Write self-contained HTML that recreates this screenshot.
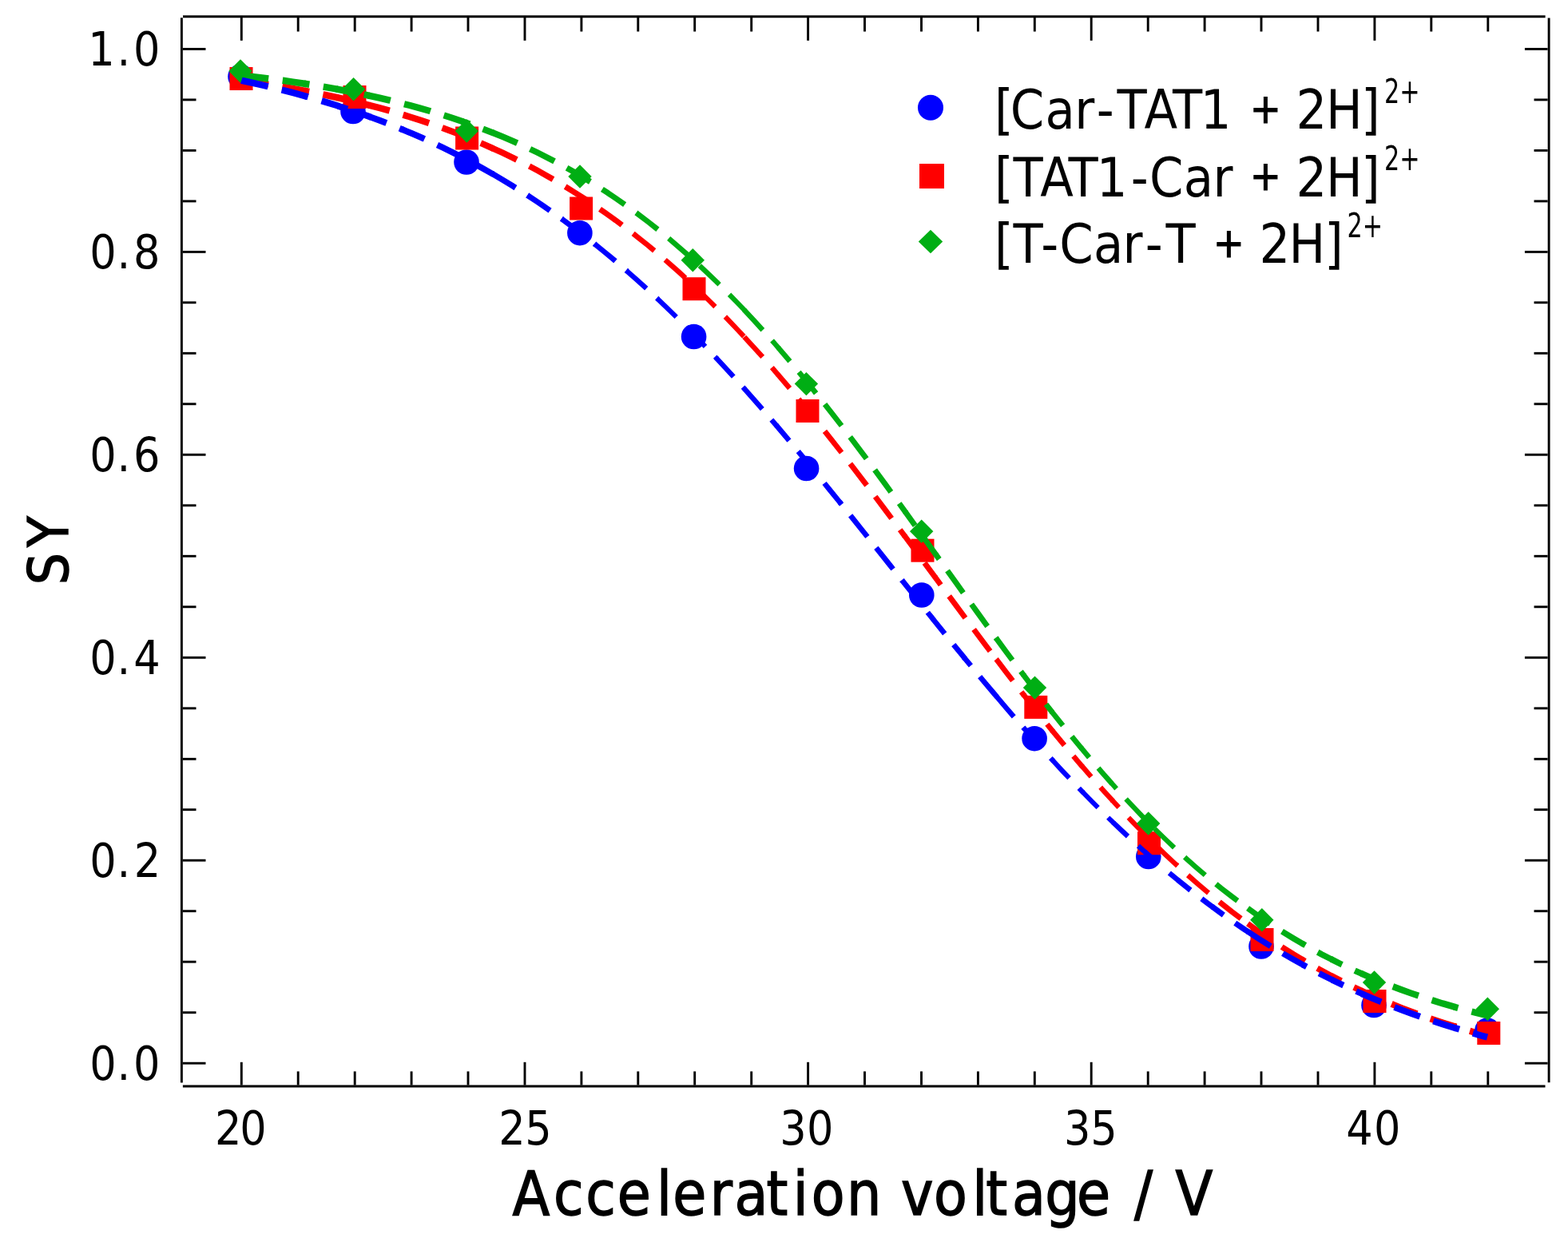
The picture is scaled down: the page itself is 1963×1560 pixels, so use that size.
<!DOCTYPE html>
<html><head><meta charset="utf-8"><title>SY vs Acceleration voltage</title>
<style>
html,body{margin:0;padding:0;background:#fff;}
body{width:1963px;height:1560px;overflow:hidden;}
svg{display:block;}
.t{font-family:"DejaVu Sans Condensed","DejaVu Sans","Liberation Sans",sans-serif;font-stretch:condensed;fill:#000;}
.b{font-weight:bold;}
</style></head><body>
<svg width="1963" height="1560" viewBox="0 0 1963 1560">
<rect width="1963" height="1560" fill="#fff"/>

<g stroke="#000" stroke-width="2.9" fill="none" stroke-linecap="butt">
<line x1="229" y1="20.7" x2="1934.6" y2="20.7"/>
<line x1="228.9" y1="1360" x2="1934.5" y2="1360"/>
<line x1="227.4" y1="22.3" x2="227.4" y2="1355.6"/>
<line x1="1939.1" y1="22.6" x2="1939.1" y2="1355.3"/>
<line x1="302.3" y1="1329.8" x2="302.3" y2="1358.6"/>
<line x1="302.3" y1="22" x2="302.3" y2="50.8"/>
<line x1="373.2" y1="1341.4" x2="373.2" y2="1358.6"/>
<line x1="373.2" y1="22" x2="373.2" y2="39.5"/>
<line x1="444.2" y1="1341.4" x2="444.2" y2="1358.6"/>
<line x1="444.2" y1="22" x2="444.2" y2="39.5"/>
<line x1="515.1" y1="1341.4" x2="515.1" y2="1358.6"/>
<line x1="515.1" y1="22" x2="515.1" y2="39.5"/>
<line x1="586.0" y1="1341.4" x2="586.0" y2="1358.6"/>
<line x1="586.0" y1="22" x2="586.0" y2="39.5"/>
<line x1="657.0" y1="1329.8" x2="657.0" y2="1358.6"/>
<line x1="657.0" y1="22" x2="657.0" y2="50.8"/>
<line x1="727.9" y1="1341.4" x2="727.9" y2="1358.6"/>
<line x1="727.9" y1="22" x2="727.9" y2="39.5"/>
<line x1="798.8" y1="1341.4" x2="798.8" y2="1358.6"/>
<line x1="798.8" y1="22" x2="798.8" y2="39.5"/>
<line x1="869.7" y1="1341.4" x2="869.7" y2="1358.6"/>
<line x1="869.7" y1="22" x2="869.7" y2="39.5"/>
<line x1="940.7" y1="1341.4" x2="940.7" y2="1358.6"/>
<line x1="940.7" y1="22" x2="940.7" y2="39.5"/>
<line x1="1011.6" y1="1329.8" x2="1011.6" y2="1358.6"/>
<line x1="1011.6" y1="22" x2="1011.6" y2="50.8"/>
<line x1="1082.5" y1="1341.4" x2="1082.5" y2="1358.6"/>
<line x1="1082.5" y1="22" x2="1082.5" y2="39.5"/>
<line x1="1153.5" y1="1341.4" x2="1153.5" y2="1358.6"/>
<line x1="1153.5" y1="22" x2="1153.5" y2="39.5"/>
<line x1="1224.4" y1="1341.4" x2="1224.4" y2="1358.6"/>
<line x1="1224.4" y1="22" x2="1224.4" y2="39.5"/>
<line x1="1295.3" y1="1341.4" x2="1295.3" y2="1358.6"/>
<line x1="1295.3" y1="22" x2="1295.3" y2="39.5"/>
<line x1="1366.2" y1="1329.8" x2="1366.2" y2="1358.6"/>
<line x1="1366.2" y1="22" x2="1366.2" y2="50.8"/>
<line x1="1437.2" y1="1341.4" x2="1437.2" y2="1358.6"/>
<line x1="1437.2" y1="22" x2="1437.2" y2="39.5"/>
<line x1="1508.1" y1="1341.4" x2="1508.1" y2="1358.6"/>
<line x1="1508.1" y1="22" x2="1508.1" y2="39.5"/>
<line x1="1579.0" y1="1341.4" x2="1579.0" y2="1358.6"/>
<line x1="1579.0" y1="22" x2="1579.0" y2="39.5"/>
<line x1="1650.0" y1="1341.4" x2="1650.0" y2="1358.6"/>
<line x1="1650.0" y1="22" x2="1650.0" y2="39.5"/>
<line x1="1720.9" y1="1329.8" x2="1720.9" y2="1358.6"/>
<line x1="1720.9" y1="22" x2="1720.9" y2="50.8"/>
<line x1="1791.8" y1="1341.4" x2="1791.8" y2="1358.6"/>
<line x1="1791.8" y1="22" x2="1791.8" y2="39.5"/>
<line x1="1862.8" y1="1341.4" x2="1862.8" y2="1358.6"/>
<line x1="1862.8" y1="22" x2="1862.8" y2="39.5"/>
<line x1="228.6" y1="1331.2" x2="257.5" y2="1331.2"/>
<line x1="1908.9" y1="1331.2" x2="1937.6" y2="1331.2"/>
<line x1="228.6" y1="1267.7" x2="245.5" y2="1267.7"/>
<line x1="1920.5" y1="1267.7" x2="1937.6" y2="1267.7"/>
<line x1="228.6" y1="1204.2" x2="245.5" y2="1204.2"/>
<line x1="1920.5" y1="1204.2" x2="1937.6" y2="1204.2"/>
<line x1="228.6" y1="1140.7" x2="245.5" y2="1140.7"/>
<line x1="1920.5" y1="1140.7" x2="1937.6" y2="1140.7"/>
<line x1="228.6" y1="1077.2" x2="257.5" y2="1077.2"/>
<line x1="1908.9" y1="1077.2" x2="1937.6" y2="1077.2"/>
<line x1="228.6" y1="1013.7" x2="245.5" y2="1013.7"/>
<line x1="1920.5" y1="1013.7" x2="1937.6" y2="1013.7"/>
<line x1="228.6" y1="950.3" x2="245.5" y2="950.3"/>
<line x1="1920.5" y1="950.3" x2="1937.6" y2="950.3"/>
<line x1="228.6" y1="886.8" x2="245.5" y2="886.8"/>
<line x1="1920.5" y1="886.8" x2="1937.6" y2="886.8"/>
<line x1="228.6" y1="823.3" x2="257.5" y2="823.3"/>
<line x1="1908.9" y1="823.3" x2="1937.6" y2="823.3"/>
<line x1="228.6" y1="759.8" x2="245.5" y2="759.8"/>
<line x1="1920.5" y1="759.8" x2="1937.6" y2="759.8"/>
<line x1="228.6" y1="696.3" x2="245.5" y2="696.3"/>
<line x1="1920.5" y1="696.3" x2="1937.6" y2="696.3"/>
<line x1="228.6" y1="632.8" x2="245.5" y2="632.8"/>
<line x1="1920.5" y1="632.8" x2="1937.6" y2="632.8"/>
<line x1="228.6" y1="569.3" x2="257.5" y2="569.3"/>
<line x1="1908.9" y1="569.3" x2="1937.6" y2="569.3"/>
<line x1="228.6" y1="505.8" x2="245.5" y2="505.8"/>
<line x1="1920.5" y1="505.8" x2="1937.6" y2="505.8"/>
<line x1="228.6" y1="442.3" x2="245.5" y2="442.3"/>
<line x1="1920.5" y1="442.3" x2="1937.6" y2="442.3"/>
<line x1="228.6" y1="378.8" x2="245.5" y2="378.8"/>
<line x1="1920.5" y1="378.8" x2="1937.6" y2="378.8"/>
<line x1="228.6" y1="315.4" x2="257.5" y2="315.4"/>
<line x1="1908.9" y1="315.4" x2="1937.6" y2="315.4"/>
<line x1="228.6" y1="251.9" x2="245.5" y2="251.9"/>
<line x1="1920.5" y1="251.9" x2="1937.6" y2="251.9"/>
<line x1="228.6" y1="188.4" x2="245.5" y2="188.4"/>
<line x1="1920.5" y1="188.4" x2="1937.6" y2="188.4"/>
<line x1="228.6" y1="124.9" x2="245.5" y2="124.9"/>
<line x1="1920.5" y1="124.9" x2="1937.6" y2="124.9"/>
<line x1="228.6" y1="61.4" x2="257.5" y2="61.4"/>
<line x1="1908.9" y1="61.4" x2="1937.6" y2="61.4"/>
</g>
<g class="t" font-size="58.4">
<text x="112.2 146.4 167.0" y="1352.2">0.0</text>
<text x="112.2 146.4 167.7" y="1098.2">0.2</text>
<text x="112.2 146.4 167.2" y="844.3">0.4</text>
<text x="112.2 146.4 166.9" y="590.3">0.6</text>
<text x="112.2 146.4 167.0" y="336.4">0.8</text>
<text x="110.3 146.4 167.0" y="82.4">1.0</text>
<text x="269.0 300.2" y="1433.1">20</text>
<text x="624.3 657.2" y="1433.1">25</text>
<text x="976.2 1009.9" y="1433.1">30</text>
<text x="1332.1 1365.2" y="1433.1">35</text>
<text x="1685.2 1720.0" y="1433.1">40</text>
</g>
<text class="t" x="641.6 692.9 733.2 772.8 821.9 842.2 888.7 919.6 959.6 992.8 1015.7 1059.9 1103.2 1127.9 1169.0 1217.3 1234.3 1266.9 1308.3 1348.0 1390.1 1420.0 1443.1 1471.5" y="1520.5" font-size="76" stroke="#000" stroke-width="1.4">Acceleration voltage / V</text>
<text class="t" transform="translate(85.3,731.7) rotate(-90)" x="-0.5 46.6" y="0" font-size="70" stroke="#000" stroke-width="1.4">SY</text>
<text class="t" x="1244.9 1264.7 1308.4 1345.3 1372.7 1398.6 1432.4 1467.9 1502.7 1541.4 1565.1 1603.9 1622.6 1660.0 1704.1" y="161.3" font-size="67.6">[Car-TAT1 <tspan font-size="51.4" dy="-7.3" stroke="#000" stroke-width="1.2">+</tspan><tspan dy="7.3"> 2H]</tspan></text>
<text class="t" x="1733" y="129.0" font-size="42" textLength="44.5" lengthAdjust="spacingAndGlyphs">2+</text>
<text class="t" x="1244.9 1268.5 1302.3 1337.6 1372.8 1415.8 1438.9 1481.7 1518.5 1543.5 1565.1 1603.9 1622.6 1660.0 1704.1" y="245.6" font-size="67.6">[TAT1-Car <tspan font-size="51.4" dy="-7.3" stroke="#000" stroke-width="1.2">+</tspan><tspan dy="7.3"> 2H]</tspan></text>
<text class="t" x="1733" y="213.3" font-size="42" textLength="44.5" lengthAdjust="spacingAndGlyphs">2+</text>
<text class="t" x="1244.9 1268.5 1303.2 1326.3 1369.0 1405.5 1433.7 1459.5 1496.7 1519.1 1557.8 1576.5 1613.6 1658.0" y="328.9" font-size="67.6">[T-Car-T <tspan font-size="51.4" dy="-7.3" stroke="#000" stroke-width="1.2">+</tspan><tspan dy="7.3"> 2H]</tspan></text>
<text class="t" x="1686.5" y="296.6" font-size="42" textLength="44.5" lengthAdjust="spacingAndGlyphs">2+</text>
<circle cx="1165" cy="134.7" r="16" fill="#0000ff"/>
<rect x="1151" y="205" width="31" height="31" fill="#ff0000"/>
<polygon points="1165,287.8 1180.2,302.5 1165,317.3 1149.8,302.5" fill="#00ae14"/>
<g fill="none" stroke="#ff0000" stroke-dasharray="34.1 17.65" stroke-linecap="butt"><path d="M302.3,100.8 L302.9,100.9 L315.6,102.7 L328.2,104.6 L340.8,106.6 L342.8,106.9" stroke-width="8.50" stroke-dashoffset="0.0"/><path d="M341.3,106.7 L341.5,106.7 L354.1,108.8 L366.7,111.0 L379.4,113.4 L383.1,114.1" stroke-width="8.47" stroke-dashoffset="39.5"/><path d="M381.7,113.8 L381.9,113.8 L394.5,116.3 L407.2,118.9 L419.8,121.6 L423.2,122.4" stroke-width="8.42" stroke-dashoffset="80.4"/><path d="M421.8,122.1 L422.3,122.2 L435.0,125.1 L447.6,128.1 L460.2,131.3 L463.1,132.0" stroke-width="8.36" stroke-dashoffset="121.4"/><path d="M461.6,131.6 L462.1,131.8 L474.8,135.1 L487.4,138.6 L500.0,142.3 L502.5,143.0" stroke-width="8.28" stroke-dashoffset="162.3"/><path d="M501.1,142.6 L501.3,142.7 L513.9,146.6 L526.6,150.6 L539.2,154.9 L541.5,155.6" stroke-width="8.18" stroke-dashoffset="203.3"/><path d="M540.0,155.2 L540.5,155.3 L553.1,159.8 L565.7,164.5 L578.4,169.3 L579.9,169.9" stroke-width="8.06" stroke-dashoffset="244.3"/><path d="M578.5,169.4 L579.0,169.6 L591.6,174.7 L604.3,180.1 L616.9,185.7 L617.5,185.9" stroke-width="7.92" stroke-dashoffset="285.2"/><path d="M616.2,185.3 L616.5,185.5 L629.2,191.3 L642.0,197.5 L654.7,203.9 L661.0,207.1" stroke-width="7.73" stroke-dashoffset="0.0"/><path d="M659.6,206.4 L659.8,206.5 L672.6,213.3 L685.3,220.4 L698.1,227.8 L704.4,231.6" stroke-width="7.50" stroke-dashoffset="48.3"/><path d="M703.1,230.8 L703.2,230.8 L715.9,238.7 L728.7,246.8 L741.5,255.2 L746.3,258.5" stroke-width="7.24" stroke-dashoffset="98.1"/><path d="M745.1,257.6 L745.3,257.8 L758.0,266.7 L770.8,275.8 L783.6,285.4 L786.6,287.7" stroke-width="6.97" stroke-dashoffset="148.0"/><path d="M785.4,286.8 L785.5,286.8 L798.2,296.8 L811.0,307.0 L823.7,317.6 L825.4,319.0" stroke-width="6.69" stroke-dashoffset="197.8"/><path d="M824.2,318.1 L824.4,318.2 L837.1,329.2 L849.9,340.5 L862.6,352.2" stroke-width="6.43" stroke-dashoffset="247.6"/><path d="M861.5,351.1 L862.0,351.6 L874.8,363.7 L887.5,376.1 L898.3,386.8" stroke-width="6.18" stroke-dashoffset="297.4"/><path d="M897.3,385.8 L897.7,386.2 L910.5,399.2 L923.2,412.6 L932.8,422.8" stroke-width="6.21" stroke-dashoffset="347.2"/><path d="M931.8,421.7 L932.3,422.3 L945.1,436.3 L957.9,450.5 L970.6,465.1 L974.5,469.6" stroke-width="6.42" stroke-dashoffset="0.0"/><path d="M973.6,468.5 L973.8,468.8 L986.5,483.7 L999.3,499.0 L1012.1,514.5 L1015.7,518.9" stroke-width="6.60" stroke-dashoffset="62.7"/><path d="M1014.8,517.8 L1015.2,518.4 L1028.0,534.2 L1040.8,550.3 L1053.5,566.5 L1055.6,569.3" stroke-width="6.74" stroke-dashoffset="127.0"/><path d="M1054.7,568.1 L1054.8,568.2 L1067.5,584.7 L1080.3,601.3 L1093.1,618.2 L1094.6,620.3" stroke-width="6.83" stroke-dashoffset="191.2"/><path d="M1093.7,619.1 L1094.3,619.9 L1107.1,636.8 L1119.8,653.9 L1132.6,671.1 L1133.1,671.7" stroke-width="6.89" stroke-dashoffset="255.4"/><path d="M1132.2,670.5 L1132.6,671.1 L1145.4,688.3 L1158.1,705.6 L1170.9,722.9 L1171.2,723.4" stroke-width="6.92" stroke-dashoffset="319.7"/><path d="M1170.3,722.2 L1170.9,722.9 L1183.6,740.2 L1196.4,757.4 L1209.1,774.6 L1209.5,775.0" stroke-width="6.91" stroke-dashoffset="383.9"/><path d="M1208.6,773.8 L1209.1,774.6 L1221.9,791.7 L1234.6,808.7 L1247.4,825.5 L1248.0,826.4" stroke-width="6.88" stroke-dashoffset="448.1"/><path d="M1247.1,825.2 L1247.6,825.8 L1260.3,842.5 L1273.1,859.0 L1282.2,870.8" stroke-width="6.81" stroke-dashoffset="0.0"/><path d="M1281.3,869.6 L1281.4,869.7 L1294.1,885.9 L1306.9,901.8 L1318.1,915.7" stroke-width="6.72" stroke-dashoffset="56.0"/><path d="M1317.2,914.5 L1317.7,915.2 L1330.5,930.7 L1343.2,946.0 L1355.0,959.8" stroke-width="6.60" stroke-dashoffset="113.5"/><path d="M1354.1,958.7 L1354.1,958.7 L1366.8,973.4 L1379.6,987.8 L1392.4,1001.9 L1393.2,1002.8" stroke-width="6.43" stroke-dashoffset="171.1"/><path d="M1392.2,1001.7 L1392.4,1001.9 L1405.1,1015.6 L1417.9,1029.0 L1430.6,1042.1 L1432.9,1044.4" stroke-width="6.22" stroke-dashoffset="228.6"/><path d="M1431.9,1043.4 L1431.9,1043.4 L1444.7,1056.1 L1457.4,1068.4 L1470.2,1080.4 L1474.4,1084.3" stroke-width="6.20" stroke-dashoffset="286.1"/><path d="M1473.3,1083.3 L1473.4,1083.3 L1486.1,1094.9 L1498.9,1106.1 L1511.6,1116.9 L1517.8,1122.0" stroke-width="6.49" stroke-dashoffset="343.6"/><path d="M1516.6,1121.1 L1516.7,1121.1 L1529.5,1131.5 L1542.2,1141.5 L1555.0,1151.1 L1563.3,1157.2" stroke-width="6.80" stroke-dashoffset="401.1"/><path d="M1562.1,1156.3 L1562.1,1156.3 L1574.2,1165.0 L1586.3,1173.4 L1596.3,1180.1" stroke-width="7.07" stroke-dashoffset="0.0"/><path d="M1595.0,1179.2 L1595.3,1179.4 L1607.4,1187.3 L1619.5,1194.9 L1631.6,1202.1" stroke-width="7.29" stroke-dashoffset="40.2"/><path d="M1630.3,1201.4 L1630.4,1201.4 L1642.5,1208.5 L1654.6,1215.2 L1666.7,1221.8 L1668.0,1222.4" stroke-width="7.50" stroke-dashoffset="81.8"/><path d="M1666.6,1221.7 L1666.7,1221.8 L1678.8,1228.0 L1690.9,1234.1 L1703.0,1239.8 L1705.3,1240.9" stroke-width="7.70" stroke-dashoffset="123.5"/><path d="M1703.9,1240.3 L1704.2,1240.4 L1716.3,1245.9 L1728.4,1251.2 L1740.5,1256.3 L1743.5,1257.6" stroke-width="7.88" stroke-dashoffset="165.1"/><path d="M1742.1,1257.0 L1742.3,1257.1 L1754.4,1261.9 L1766.5,1266.6 L1778.6,1271.0 L1782.4,1272.4" stroke-width="8.03" stroke-dashoffset="206.8"/><path d="M1781.0,1271.9 L1781.6,1272.1 L1793.7,1276.3 L1805.8,1280.3 L1817.9,1284.2 L1822.0,1285.5" stroke-width="8.16" stroke-dashoffset="248.4"/><path d="M1820.5,1285.0 L1820.9,1285.1 L1833.0,1288.8 L1845.1,1292.3 L1857.2,1295.6 L1862.0,1296.9" stroke-width="8.27" stroke-dashoffset="290.1"/></g>
<circle cx="301" cy="96" r="15.8" fill="#0000ff"/>
<circle cx="442" cy="139.5" r="15.8" fill="#0000ff"/>
<circle cx="584" cy="203" r="15.8" fill="#0000ff"/>
<circle cx="725.9" cy="291.7" r="15.8" fill="#0000ff"/>
<circle cx="868.6" cy="421.5" r="15.8" fill="#0000ff"/>
<circle cx="1009.6" cy="586.5" r="15.8" fill="#0000ff"/>
<circle cx="1153.8" cy="745" r="15.8" fill="#0000ff"/>
<circle cx="1295.1" cy="924.7" r="15.8" fill="#0000ff"/>
<circle cx="1437.8" cy="1072.5" r="15.8" fill="#0000ff"/>
<circle cx="1579" cy="1185" r="15.8" fill="#0000ff"/>
<circle cx="1720" cy="1258.5" r="15.8" fill="#0000ff"/>
<circle cx="1862" cy="1290" r="15.8" fill="#0000ff"/>
<rect x="287.5" y="84.0" width="29" height="29" fill="#ff0000"/>
<rect x="429.5" y="107.0" width="29" height="29" fill="#ff0000"/>
<rect x="570.1" y="158.5" width="29" height="29" fill="#ff0000"/>
<rect x="713.1" y="246.5" width="29" height="29" fill="#ff0000"/>
<rect x="854.5" y="347.2" width="29" height="29" fill="#ff0000"/>
<rect x="996.5" y="500.0" width="29" height="29" fill="#ff0000"/>
<rect x="1140.5" y="674.7" width="29" height="29" fill="#ff0000"/>
<rect x="1282.3" y="870.9" width="29" height="29" fill="#ff0000"/>
<rect x="1424.0" y="1041.2" width="29" height="29" fill="#ff0000"/>
<rect x="1565.5" y="1162.0" width="29" height="29" fill="#ff0000"/>
<rect x="1706.5" y="1239.0" width="29" height="29" fill="#ff0000"/>
<rect x="1849.3" y="1279.0" width="29" height="29" fill="#ff0000"/>
<polygon points="301,74.3 315.7,89 301,103.7 286.3,89" fill="#00ae14"/>
<polygon points="442.6,97.0 457.3,111.7 442.6,126.4 427.90000000000003,111.7" fill="#00ae14"/>
<polygon points="584.4,149.3 599.1,164 584.4,178.7 569.6999999999999,164" fill="#00ae14"/>
<polygon points="726,206.3 740.7,221 726,235.7 711.3,221" fill="#00ae14"/>
<polygon points="867.3,311.1 882.0,325.8 867.3,340.5 852.5999999999999,325.8" fill="#00ae14"/>
<polygon points="1009.4,465.90000000000003 1024.1,480.6 1009.4,495.3 994.6999999999999,480.6" fill="#00ae14"/>
<polygon points="1153.7,650.5999999999999 1168.4,665.3 1153.7,680.0 1139.0,665.3" fill="#00ae14"/>
<polygon points="1295.5,846.4 1310.2,861.1 1295.5,875.8000000000001 1280.8,861.1" fill="#00ae14"/>
<polygon points="1437.7,1016.3 1452.4,1031 1437.7,1045.7 1423.0,1031" fill="#00ae14"/>
<polygon points="1579.8,1137.1 1594.5,1151.8 1579.8,1166.5 1565.1,1151.8" fill="#00ae14"/>
<polygon points="1720.5,1215.3 1735.2,1230 1720.5,1244.7 1705.8,1230" fill="#00ae14"/>
<polygon points="1862.3,1248.6 1877.0,1263.3 1862.3,1278.0 1847.6,1263.3" fill="#00ae14"/>
<g fill="none" stroke="#00ae14" stroke-dasharray="34.1 17.65" stroke-linecap="butt"><path d="M302.3,94.3 L302.9,94.4 L315.6,95.9 L328.2,97.4 L340.8,99.0 L342.6,99.2" stroke-width="8.54" stroke-dashoffset="0.0"/><path d="M341.1,99.0 L341.5,99.1 L354.1,100.8 L366.7,102.6 L379.4,104.5 L382.7,105.0" stroke-width="8.51" stroke-dashoffset="39.0"/><path d="M381.2,104.8 L381.3,104.8 L393.9,106.8 L406.5,108.9 L419.2,111.2 L422.7,111.8" stroke-width="8.48" stroke-dashoffset="79.6"/><path d="M421.2,111.5 L421.7,111.6 L434.3,114.0 L447.0,116.5 L459.6,119.2 L462.4,119.8" stroke-width="8.43" stroke-dashoffset="120.1"/><path d="M460.9,119.4 L461.5,119.6 L474.1,122.4 L486.8,125.3 L499.4,128.4 L501.9,129.1" stroke-width="8.37" stroke-dashoffset="160.7"/><path d="M500.4,128.7 L500.7,128.8 L513.3,132.0 L525.9,135.5 L538.6,139.1 L541.0,139.9" stroke-width="8.29" stroke-dashoffset="201.2"/><path d="M539.5,139.4 L539.8,139.5 L552.5,143.4 L565.1,147.4 L577.7,151.6 L579.6,152.3" stroke-width="8.19" stroke-dashoffset="241.8"/><path d="M578.1,151.8 L578.4,151.9 L591.0,156.3 L603.6,161.0 L616.3,165.9 L617.5,166.4" stroke-width="8.06" stroke-dashoffset="282.3"/><path d="M616.2,165.9 L616.5,166.0 L629.2,171.2 L642.0,176.7 L654.7,182.4 L661.0,185.3" stroke-width="7.89" stroke-dashoffset="0.0"/><path d="M659.6,184.7 L659.8,184.8 L672.6,190.9 L685.3,197.3 L698.1,204.0 L704.5,207.4" stroke-width="7.67" stroke-dashoffset="47.3"/><path d="M703.2,206.7 L703.2,206.7 L715.9,213.8 L728.7,221.3 L741.5,229.0 L746.6,232.2" stroke-width="7.41" stroke-dashoffset="96.2"/><path d="M745.3,231.4 L745.9,231.8 L758.7,240.1 L771.4,248.6 L784.2,257.5 L787.0,259.6" stroke-width="7.13" stroke-dashoffset="145.0"/><path d="M785.8,258.7 L786.1,258.9 L798.9,268.2 L811.6,277.9 L824.4,288.0 L825.8,289.2" stroke-width="6.84" stroke-dashoffset="193.9"/><path d="M824.7,288.3 L825.0,288.5 L837.8,299.0 L850.5,309.9 L863.0,320.9" stroke-width="6.55" stroke-dashoffset="242.7"/><path d="M861.9,319.9 L862.0,320.0 L874.8,331.6 L887.5,343.6 L898.6,354.3" stroke-width="6.27" stroke-dashoffset="291.6"/><path d="M897.6,353.3 L897.7,353.4 L910.5,366.1 L923.2,379.2 L932.8,389.2" stroke-width="6.14" stroke-dashoffset="340.4"/><path d="M931.8,388.1 L932.3,388.8 L945.1,402.5 L957.9,416.6 L970.6,431.0 L975.3,436.4" stroke-width="6.39" stroke-dashoffset="0.0"/><path d="M974.3,435.3 L974.4,435.4 L987.2,450.3 L999.9,465.6 L1012.7,481.2 L1016.9,486.3" stroke-width="6.60" stroke-dashoffset="63.5"/><path d="M1015.9,485.2 L1016.5,485.9 L1029.3,501.9 L1042.0,518.1 L1054.8,534.6 L1057.0,537.5" stroke-width="6.77" stroke-dashoffset="128.5"/><path d="M1056.1,536.3 L1056.1,536.3 L1068.8,553.1 L1081.6,570.1 L1094.3,587.3 L1096.0,589.5" stroke-width="6.88" stroke-dashoffset="193.5"/><path d="M1095.1,588.3 L1095.6,589.0 L1108.4,606.4 L1121.1,623.9 L1133.9,641.6 L1134.2,642.0" stroke-width="6.95" stroke-dashoffset="258.5"/><path d="M1133.3,640.8 L1133.9,641.6 L1146.6,659.3 L1159.4,677.2 L1172.0,694.9" stroke-width="6.99" stroke-dashoffset="323.4"/><path d="M1171.2,693.6 L1171.5,694.1 L1184.3,712.0 L1197.0,729.8 L1209.8,747.6 L1209.9,747.7" stroke-width="6.99" stroke-dashoffset="388.4"/><path d="M1209.0,746.5 L1209.1,746.7 L1221.9,764.4 L1234.6,782.0 L1247.4,799.4 L1248.0,800.3" stroke-width="6.96" stroke-dashoffset="453.4"/><path d="M1247.1,799.1 L1247.6,799.7 L1260.3,817.0 L1273.1,834.1 L1281.9,845.8" stroke-width="6.90" stroke-dashoffset="0.0"/><path d="M1281.0,844.6 L1281.4,845.1 L1294.1,861.9 L1306.9,878.4 L1317.4,891.9" stroke-width="6.81" stroke-dashoffset="56.7"/><path d="M1316.5,890.7 L1317.1,891.5 L1329.9,907.5 L1342.6,923.2 L1354.1,937.1" stroke-width="6.68" stroke-dashoffset="114.9"/><path d="M1353.1,935.9 L1353.5,936.3 L1366.2,951.5 L1379.0,966.3 L1391.7,980.7 L1392.1,981.1" stroke-width="6.51" stroke-dashoffset="173.1"/><path d="M1391.1,980.0 L1391.1,980.0 L1403.8,994.1 L1416.6,1007.8 L1429.3,1021.2 L1431.8,1023.7" stroke-width="6.29" stroke-dashoffset="231.3"/><path d="M1430.7,1022.6 L1431.3,1023.2 L1444.0,1036.1 L1456.8,1048.6 L1469.5,1060.7 L1473.4,1064.3" stroke-width="6.15" stroke-dashoffset="289.4"/><path d="M1472.3,1063.3 L1472.7,1063.7 L1485.5,1075.3 L1498.2,1086.6 L1511.0,1097.5 L1517.2,1102.6" stroke-width="6.47" stroke-dashoffset="347.6"/><path d="M1516.0,1101.7 L1516.1,1101.7 L1528.8,1112.1 L1541.6,1122.0 L1554.3,1131.6 L1563.3,1138.1" stroke-width="6.81" stroke-dashoffset="405.8"/><path d="M1562.1,1137.2 L1562.1,1137.2 L1574.2,1145.8 L1586.3,1154.0 L1596.2,1160.5" stroke-width="7.10" stroke-dashoffset="0.0"/><path d="M1594.9,1159.7 L1595.3,1160.0 L1607.4,1167.6 L1619.5,1175.0 L1631.5,1182.0" stroke-width="7.34" stroke-dashoffset="39.8"/><path d="M1630.2,1181.3 L1630.4,1181.4 L1642.5,1188.2 L1654.6,1194.8 L1666.7,1201.0 L1667.9,1201.7" stroke-width="7.57" stroke-dashoffset="81.2"/><path d="M1666.6,1201.0 L1666.7,1201.0 L1678.8,1207.1 L1690.9,1212.8 L1703.0,1218.3 L1705.3,1219.3" stroke-width="7.77" stroke-dashoffset="122.5"/><path d="M1703.9,1218.7 L1704.2,1218.8 L1716.3,1224.1 L1728.4,1229.1 L1740.5,1233.9 L1743.5,1235.1" stroke-width="7.95" stroke-dashoffset="163.9"/><path d="M1742.1,1234.5 L1742.3,1234.6 L1754.4,1239.1 L1766.5,1243.5 L1778.6,1247.6 L1782.5,1248.9" stroke-width="8.10" stroke-dashoffset="205.2"/><path d="M1781.0,1248.5 L1781.6,1248.6 L1793.7,1252.5 L1805.8,1256.3 L1817.9,1259.8 L1822.0,1261.0" stroke-width="8.22" stroke-dashoffset="246.6"/><path d="M1820.6,1260.6 L1820.9,1260.7 L1833.0,1264.0 L1845.1,1267.2 L1857.2,1270.3 L1862.0,1271.4" stroke-width="8.32" stroke-dashoffset="287.9"/></g>
<g fill="none" stroke="#0000ff" stroke-dasharray="34.1 17.65" stroke-linecap="butt"><path d="M302.3,100.7 L302.9,100.9 L315.6,103.6 L328.2,106.5 L340.8,109.5 L343.5,110.2" stroke-width="8.38" stroke-dashoffset="0.0"/><path d="M342.0,109.8 L342.1,109.8 L354.7,113.0 L367.4,116.3 L380.0,119.7 L384.3,120.9" stroke-width="8.32" stroke-dashoffset="40.7"/><path d="M382.9,120.5 L383.2,120.6 L395.8,124.2 L408.4,128.0 L421.1,131.9 L424.7,133.1" stroke-width="8.24" stroke-dashoffset="83.0"/><path d="M423.3,132.7 L423.6,132.8 L436.2,136.9 L448.9,141.2 L461.5,145.7 L464.7,146.8" stroke-width="8.13" stroke-dashoffset="125.2"/><path d="M463.3,146.3 L463.4,146.4 L476.0,151.1 L488.7,156.0 L501.3,161.1 L504.0,162.2" stroke-width="8.01" stroke-dashoffset="167.4"/><path d="M502.6,161.6 L503.2,161.9 L515.8,167.2 L528.5,172.7 L541.1,178.5 L542.7,179.2" stroke-width="7.87" stroke-dashoffset="209.7"/><path d="M541.3,178.6 L541.7,178.8 L554.4,184.8 L567.0,191.0 L579.6,197.4 L580.5,197.9" stroke-width="7.71" stroke-dashoffset="251.9"/><path d="M579.2,197.2 L579.6,197.4 L592.3,204.1 L604.9,211.1 L617.5,218.2" stroke-width="7.54" stroke-dashoffset="294.1"/><path d="M616.2,217.5 L616.5,217.6 L629.2,225.1 L642.0,232.9 L654.7,240.9 L660.8,244.8" stroke-width="7.33" stroke-dashoffset="0.0"/><path d="M659.5,244.0 L659.8,244.2 L672.6,252.6 L685.3,261.3 L698.1,270.3 L703.8,274.5" stroke-width="7.09" stroke-dashoffset="50.8"/><path d="M702.6,273.6 L703.2,274.0 L715.9,283.4 L728.7,293.1 L741.5,303.1 L745.3,306.2" stroke-width="6.84" stroke-dashoffset="103.0"/><path d="M744.2,305.2 L744.6,305.6 L757.4,316.0 L770.2,326.6 L782.9,337.6 L785.4,339.7" stroke-width="6.59" stroke-dashoffset="155.3"/><path d="M784.2,338.8 L784.8,339.3 L797.6,350.6 L810.3,362.2 L823.1,374.0 L824.0,374.9" stroke-width="6.36" stroke-dashoffset="207.5"/><path d="M822.9,373.9 L823.1,374.0 L835.8,386.2 L848.6,398.7 L861.4,411.4 L861.4,411.4" stroke-width="6.15" stroke-dashoffset="259.8"/><path d="M860.3,410.4 L860.7,410.8 L873.5,423.8 L886.2,437.1 L897.6,449.1" stroke-width="6.20" stroke-dashoffset="312.0"/><path d="M896.6,448.0 L897.1,448.6 L909.8,462.3 L922.6,476.3 L932.8,487.7" stroke-width="6.35" stroke-dashoffset="364.3"/><path d="M931.8,486.6 L932.3,487.2 L945.1,501.6 L957.9,516.3 L970.6,531.1 L972.8,533.6" stroke-width="6.48" stroke-dashoffset="0.0"/><path d="M971.8,532.5 L971.9,532.6 L984.6,547.6 L997.4,562.9 L1010.1,578.2 L1012.8,581.5" stroke-width="6.59" stroke-dashoffset="60.9"/><path d="M1011.8,580.3 L1012.1,580.6 L1024.8,596.1 L1037.6,611.8 L1050.3,627.5 L1052.2,629.8" stroke-width="6.67" stroke-dashoffset="123.3"/><path d="M1051.2,628.7 L1051.6,629.1 L1064.4,645.0 L1077.1,661.0 L1089.9,677.0 L1091.1,678.5" stroke-width="6.72" stroke-dashoffset="185.6"/><path d="M1090.2,677.4 L1090.5,677.8 L1103.3,693.8 L1116.0,709.9 L1128.8,725.9 L1129.9,727.4" stroke-width="6.73" stroke-dashoffset="248.0"/><path d="M1129.0,726.2 L1129.4,726.7 L1142.2,742.7 L1154.9,758.7 L1167.7,774.7 L1168.9,776.1" stroke-width="6.72" stroke-dashoffset="310.4"/><path d="M1167.9,775.0 L1168.3,775.5 L1181.1,791.3 L1193.8,807.1 L1206.6,822.7 L1208.1,824.6" stroke-width="6.68" stroke-dashoffset="372.8"/><path d="M1207.2,823.4 L1207.2,823.5 L1220.0,839.0 L1232.7,854.3 L1245.5,869.5 L1248.0,872.5" stroke-width="6.61" stroke-dashoffset="435.1"/><path d="M1247.1,871.4 L1247.6,872.0 L1260.3,887.0 L1273.1,901.8 L1282.5,912.5" stroke-width="6.52" stroke-dashoffset="0.0"/><path d="M1281.5,911.4 L1282.0,912.0 L1294.8,926.4 L1307.5,940.6 L1318.8,952.9" stroke-width="6.40" stroke-dashoffset="52.8"/><path d="M1317.8,951.8 L1318.4,952.5 L1331.1,966.3 L1343.9,979.7 L1356.1,992.4" stroke-width="6.25" stroke-dashoffset="107.1"/><path d="M1355.0,991.3 L1355.4,991.7 L1368.1,1004.7 L1380.9,1017.4 L1393.6,1029.8 L1394.6,1030.7" stroke-width="6.09" stroke-dashoffset="161.4"/><path d="M1393.5,1029.7 L1393.6,1029.8 L1406.4,1041.9 L1419.1,1053.8 L1431.9,1065.3 L1434.4,1067.6" stroke-width="6.31" stroke-dashoffset="215.7"/><path d="M1433.3,1066.6 L1433.8,1067.0 L1446.6,1078.3 L1459.3,1089.2 L1472.1,1099.8 L1475.8,1102.8" stroke-width="6.54" stroke-dashoffset="270.1"/><path d="M1474.6,1101.9 L1474.6,1101.9 L1487.4,1112.1 L1500.1,1122.1 L1512.9,1131.8 L1518.7,1136.1" stroke-width="6.79" stroke-dashoffset="324.4"/><path d="M1517.5,1135.2 L1518.0,1135.5 L1530.8,1144.8 L1543.5,1153.8 L1556.3,1162.5 L1563.3,1167.1" stroke-width="7.05" stroke-dashoffset="378.7"/><path d="M1562.0,1166.3 L1562.1,1166.3 L1574.2,1174.2 L1586.3,1181.8 L1596.8,1188.2" stroke-width="7.28" stroke-dashoffset="0.0"/><path d="M1595.6,1187.5 L1596.0,1187.7 L1608.0,1194.9 L1620.1,1201.8 L1632.2,1208.5 L1632.6,1208.7" stroke-width="7.46" stroke-dashoffset="39.7"/><path d="M1631.3,1208.0 L1631.6,1208.2 L1643.7,1214.6 L1655.8,1220.9 L1667.9,1226.9 L1669.2,1227.6" stroke-width="7.64" stroke-dashoffset="80.8"/><path d="M1667.8,1226.9 L1667.9,1226.9 L1680.0,1232.8 L1692.1,1238.4 L1704.2,1243.8 L1706.5,1244.8" stroke-width="7.80" stroke-dashoffset="122.0"/><path d="M1705.1,1244.2 L1705.4,1244.4 L1717.5,1249.6 L1729.6,1254.6 L1741.7,1259.4 L1744.6,1260.5" stroke-width="7.95" stroke-dashoffset="163.2"/><path d="M1743.2,1260.0 L1743.5,1260.1 L1755.6,1264.7 L1767.7,1269.2 L1779.8,1273.5 L1783.2,1274.7" stroke-width="8.08" stroke-dashoffset="204.3"/><path d="M1781.8,1274.2 L1782.2,1274.3 L1794.3,1278.4 L1806.4,1282.3 L1818.5,1286.1 L1822.4,1287.3" stroke-width="8.18" stroke-dashoffset="245.5"/><path d="M1821.0,1286.9 L1821.5,1287.0 L1833.6,1290.6 L1845.7,1294.1 L1857.8,1297.4 L1862.0,1298.5" stroke-width="8.27" stroke-dashoffset="286.6"/></g>
</svg>
</body></html>
